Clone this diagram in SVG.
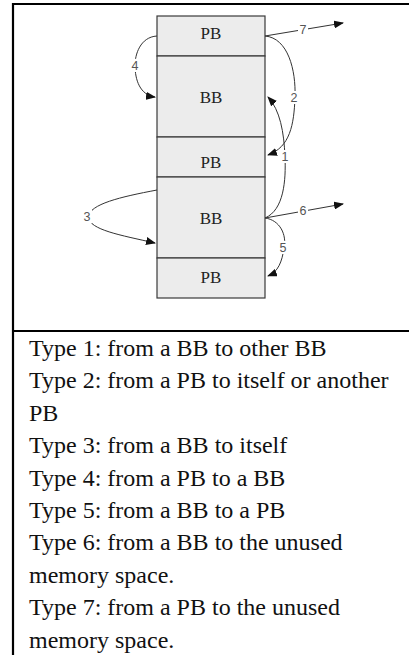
<svg xmlns="http://www.w3.org/2000/svg" width="409" height="655" viewBox="0 0 409 655">
<defs>
<style>
.blk{fill:#ececec;stroke:#3a3a3a;stroke-width:1.2}
.bl{font-family:"Liberation Serif","Times New Roman",serif;font-size:17px;fill:#222;text-anchor:middle}
.c{fill:none;stroke:#333;stroke-width:1}
.lb{font-family:"Liberation Sans",Arial,sans-serif;font-size:12.5px;fill:#555;text-anchor:middle}
.bg{fill:#fff}
.tx{font-family:"Liberation Serif","Times New Roman",serif;font-size:24px;fill:#111}
</style>
<marker id="ah" viewBox="0 0 10 8" refX="9" refY="4" markerWidth="10" markerHeight="8" markerUnits="userSpaceOnUse" orient="auto">
<path d="M0,0 L10,4 L0,8 z" fill="#111"/>
</marker>
</defs>
<rect width="409" height="655" fill="#fff"/>
<g id="frame" stroke="#000" stroke-width="2.2">
<line x1="13" y1="4" x2="409" y2="4"/>
<line x1="13" y1="3" x2="13" y2="655"/>
<line x1="13" y1="331" x2="409" y2="331"/>
</g>
<g id="pb1"><rect class="blk" x="157" y="16" width="108" height="40"/><text class="bl" x="211" y="39">PB</text></g>
<g id="bb1"><rect class="blk" x="157" y="56" width="108" height="81"/><text class="bl" x="211" y="103">BB</text></g>
<g id="pb2"><rect class="blk" x="157" y="137" width="108" height="40"/><text class="bl" x="211" y="168">PB</text></g>
<g id="bb2"><rect class="blk" x="157" y="177" width="108" height="81"/><text class="bl" x="211" y="224">BB</text></g>
<g id="pb3"><rect class="blk" x="157" y="258" width="108" height="40"/><text class="bl" x="211" y="283">PB</text></g>
<g id="connectors">
<path class="c" d="M265,36 L343,23" marker-end="url(#ah)"/>
<path class="c" d="M265,36 C288,38 296,70 295,97 C294,125 290,147 268,155" marker-end="url(#ah)"/>
<path class="c" d="M265,218 C284,210 286,180 285,157 C284,132 280,110 268,97" marker-end="url(#ah)"/>
<path class="c" d="M265,218 L343,204" marker-end="url(#ah)"/>
<path class="c" d="M265,218 C280,220 287,235 284,248 C282,262 278,272 268,276" marker-end="url(#ah)"/>
<path class="c" d="M157,36 C140,37 135,55 135,65 C135,80 140,95 155,97" marker-end="url(#ah)"/>
<path class="c" d="M157,190 C120,197 90,204 88,217 C90,230 120,235 155,243" marker-end="url(#ah)"/>
<rect class="bg" x="298" y="22" width="10" height="13"/><text class="lb" x="303" y="34">7</text>
<rect class="bg" x="289" y="91" width="10" height="13"/><text class="lb" x="294" y="102">2</text>
<rect class="bg" x="280" y="150" width="10" height="13"/><text class="lb" x="285" y="161">1</text>
<rect class="bg" x="298" y="203" width="10" height="13"/><text class="lb" x="303" y="215">6</text>
<rect class="bg" x="278" y="241" width="10" height="13"/><text class="lb" x="283" y="252">5</text>
<rect class="bg" x="130" y="59" width="10" height="13"/><text class="lb" x="135" y="70">4</text>
<rect class="bg" x="82" y="210" width="10" height="13"/><text class="lb" x="87" y="221">3</text>
</g>
<g id="legend">
<text class="tx" x="29" y="356">Type 1: from a BB to other BB</text>
<text class="tx" x="29" y="388.4">Type 2: from a PB to itself or another</text>
<text class="tx" x="29" y="420.8">PB</text>
<text class="tx" x="29" y="453.2">Type 3: from a BB to itself</text>
<text class="tx" x="29" y="485.6">Type 4: from a PB to a BB</text>
<text class="tx" x="29" y="518">Type 5: from a BB to a PB</text>
<text class="tx" x="29" y="550.4">Type 6: from a BB to the unused</text>
<text class="tx" x="29" y="582.8">memory space.</text>
<text class="tx" x="29" y="615.2">Type 7: from a PB to the unused</text>
<text class="tx" x="29" y="647.6">memory space.</text>
</g>
</svg>
